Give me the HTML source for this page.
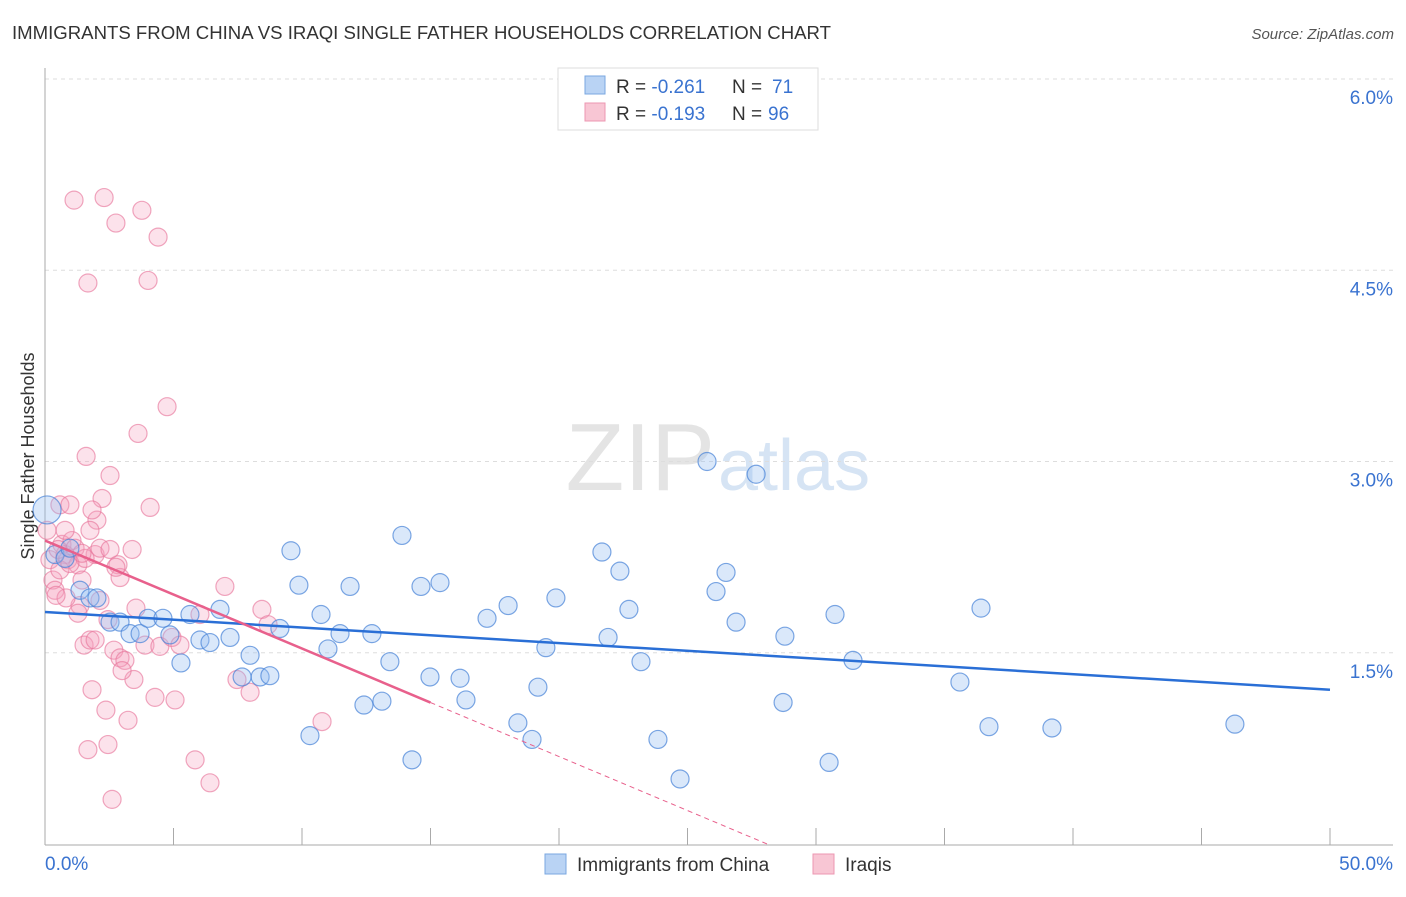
<!DOCTYPE html>
<html><head><meta charset="utf-8"><style>
body{margin:0;background:#fff;font-family:"Liberation Sans",sans-serif}
svg text{font-family:"Liberation Sans",sans-serif}
</style></head><body>
<svg id="chart" width="1406" height="892" viewBox="0 0 1406 892">
<text x="12" y="39" font-size="18" fill="#333" textLength="819" lengthAdjust="spacingAndGlyphs">IMMIGRANTS FROM CHINA VS IRAQI SINGLE FATHER HOUSEHOLDS CORRELATION CHART</text>
<text x="1394" y="39" font-size="15" fill="#555" text-anchor="end" font-style="italic">Source: ZipAtlas.com</text>
<text x="715" y="490" font-size="96" fill="#e4e4e4" text-anchor="end" font-family="Liberation Serif">ZIP</text>
<text x="718" y="490" font-size="72" fill="#d6e4f4">atlas</text>
<text x="34" y="456" font-size="18" fill="#333" text-anchor="middle" transform="rotate(-90 34 456)">Single Father Households</text>
<g id="grid"></g><g id="axes"></g><g id="pts"></g><g id="trend"></g>
<g>
<rect x="558" y="68" width="260" height="62" fill="#fff" stroke="#ddd"/>
<rect x="585" y="76" width="20" height="18" fill="#b9d3f4" stroke="#7aa7e0"/>
<rect x="585" y="103" width="20" height="18" fill="#f8c6d4" stroke="#ec97b2"/>
<text x="616" y="93" font-size="19" fill="#333">R = <tspan fill="#3a73d0">-0.261</tspan></text>
<text x="732" y="93" font-size="19" fill="#333">N = <tspan x="772" fill="#3a73d0">71</tspan></text>
<text x="616" y="120" font-size="19" fill="#333">R = <tspan fill="#3a73d0">-0.193</tspan></text>
<text x="732" y="120" font-size="19" fill="#333">N = <tspan x="768" fill="#3a73d0">96</tspan></text>
</g>
<g>
<rect x="545" y="854" width="21" height="20" fill="#b9d3f4" stroke="#7aa7e0"/>
<text x="577" y="871" font-size="19" fill="#333">Immigrants from China</text>
<rect x="813" y="854" width="21" height="20" fill="#f8c6d4" stroke="#ec97b2"/>
<text x="845" y="871" font-size="19" fill="#333">Iraqis</text>
</g>
</svg>
<script>
const yTicks=[1.5,3.0,4.5,6.0];
const yTickLabels=["1.5%","3.0%","4.5%","6.0%"];
const xEdgeLabels=["0.0%","50.0%"];
const chinaX=[0.08,0.39,0.78,0.97,1.36,1.75,2.02,2.53,2.92,3.31,3.70,4.01,4.59,4.86,5.29,5.64,6.03,6.42,6.81,7.20,7.67,7.98,8.37,8.75,9.14,9.57,9.88,10.31,10.74,11.01,11.48,11.87,12.41,12.72,13.11,13.42,13.89,14.28,14.63,14.98,15.37,16.15,16.38,17.20,18.02,18.40,18.95,19.18,19.49,19.88,21.67,21.91,22.37,22.72,23.19,23.85,24.71,25.76,26.11,26.50,26.89,27.67,28.72,28.79,30.51,30.74,31.44,35.60,36.42,36.73,39.18,46.30];
const chinaY=[2.62,2.27,2.24,2.32,1.99,1.93,1.93,1.74,1.74,1.65,1.65,1.77,1.77,1.64,1.42,1.80,1.60,1.58,1.84,1.62,1.31,1.48,1.31,1.32,1.69,2.30,2.03,0.85,1.80,1.53,1.65,2.02,1.09,1.65,1.12,1.43,2.42,0.66,2.02,1.31,2.05,1.30,1.13,1.77,1.87,0.95,0.82,1.23,1.54,1.93,2.29,1.62,2.14,1.84,1.43,0.82,0.51,3.00,1.98,2.13,1.74,2.90,1.11,1.63,0.64,1.80,1.44,1.27,1.85,0.92,0.91,0.94];
const iraqX=[0.08,0.19,0.31,0.39,0.58,0.66,0.78,0.89,0.97,1.05,1.13,1.28,1.36,1.44,1.52,1.60,1.67,1.75,1.83,1.95,2.02,2.14,2.22,2.30,2.37,2.45,2.53,2.61,2.68,2.76,2.84,2.92,3.11,3.23,3.39,3.46,3.54,3.62,3.77,3.89,4.01,4.09,4.28,4.40,4.47,4.75,4.94,5.06,5.25,5.84,6.03,6.42,7.00,7.47,7.98,8.44,8.68,10.78,1.75,1.95,0.58,0.78,0.51,1.17,1.56,1.83,2.14,2.53,2.92,3.00,1.28,1.67,2.45,2.76,0.82,0.43,0.97,1.44];
const iraqY=[2.46,2.23,2.07,1.99,2.66,2.35,2.27,2.23,2.66,2.38,5.05,2.19,1.87,2.07,1.56,3.04,4.40,1.60,1.21,1.60,2.54,1.91,2.71,5.07,1.05,1.76,2.89,0.35,1.52,4.87,2.19,1.46,1.44,0.97,2.31,1.29,1.85,3.22,4.97,1.56,4.42,2.64,1.15,4.76,1.55,3.43,1.62,1.13,1.56,0.66,1.80,0.48,2.02,1.29,1.19,1.84,1.72,0.96,2.46,2.27,2.15,2.46,2.31,2.32,2.24,2.62,2.32,2.31,2.09,1.36,1.81,0.74,0.78,2.17,1.93,1.95,2.20,2.28];
const chinaTrend=[1.82,1.21];   // y at x=0 and x=50
const iraqTrend=[2.38,-0.0847]; // intercept, slope
const iraqSolidEnd=15;
const NS="http://www.w3.org/2000/svg";
const X=v=>45+v/50*1285;
const Y=v=>844-v*127.5;
function mk(tag,attrs,parent){const e=document.createElementNS(NS,tag);for(const k in attrs)e.setAttribute(k,attrs[k]);parent.appendChild(e);return e;}
const grid=document.getElementById('grid'),axes=document.getElementById('axes'),pts=document.getElementById('pts'),tr=document.getElementById('trend');
yTicks.forEach((t,i)=>{
 const l=mk('line',{x1:45,x2:1393,y1:Y(t),y2:Y(t),stroke:'#ddd','stroke-dasharray':'4,4'},grid);
 
 
 const tx=mk('text',{x:1393,y:Y(t)+25,'font-size':19,fill:'#3a73d0','text-anchor':'end'},grid);
 tx.textContent=yTickLabels[i];
 
 
});
const ya=mk('line',{x1:45,x2:45,y1:68,y2:845,stroke:'#aaa'},axes);


const xa=mk('line',{x1:45,x2:1393,y1:845,y2:845,stroke:'#aaa'},axes);


for(let v=5;v<=50;v+=5){
 const t=mk('line',{x1:X(v),x2:X(v),y1:828,y2:845,stroke:'#aaa'},axes);
 
 
}
[[0,'start',45],[1,'end',1393]].forEach(([i,a,x])=>{
 const t=mk('text',{x:x,y:870,'font-size':19,fill:'#3a73d0','text-anchor':a},axes);
 t.textContent=xEdgeLabels[i];
 
 
});
iraqX.forEach((x,i)=>{
 const c=mk('circle',{cx:X(x),cy:Y(iraqY[i]),r:9,fill:'rgba(244,160,188,0.3)',stroke:'rgba(232,120,156,0.65)','stroke-width':1.2},pts);
 
 
});
chinaX.forEach((x,i)=>{
 const c=mk('circle',{cx:X(x),cy:Y(chinaY[i]),r:i==0?14:9,fill:'rgba(150,190,240,0.35)',stroke:'rgba(70,130,215,0.7)','stroke-width':1.2},pts);
 
 
});
const bl=mk('line',{x1:X(0),y1:Y(chinaTrend[0]),x2:X(50),y2:Y(chinaTrend[1]),stroke:'#2a6fd6','stroke-width':2.5},tr);


const iy=x=>iraqTrend[0]+iraqTrend[1]*x;
const zeroX=-iraqTrend[0]/iraqTrend[1];
const pl=mk('line',{x1:X(0),y1:Y(iy(0)),x2:X(iraqSolidEnd),y2:Y(iy(iraqSolidEnd)),stroke:'#e8608c','stroke-width':2.5},tr);


const pd=mk('line',{x1:X(iraqSolidEnd),y1:Y(iy(iraqSolidEnd)),x2:X(zeroX),y2:Y(0),stroke:'#e8608c','stroke-width':1,'stroke-dasharray':'5,4'},tr);


</script>
</body></html>
